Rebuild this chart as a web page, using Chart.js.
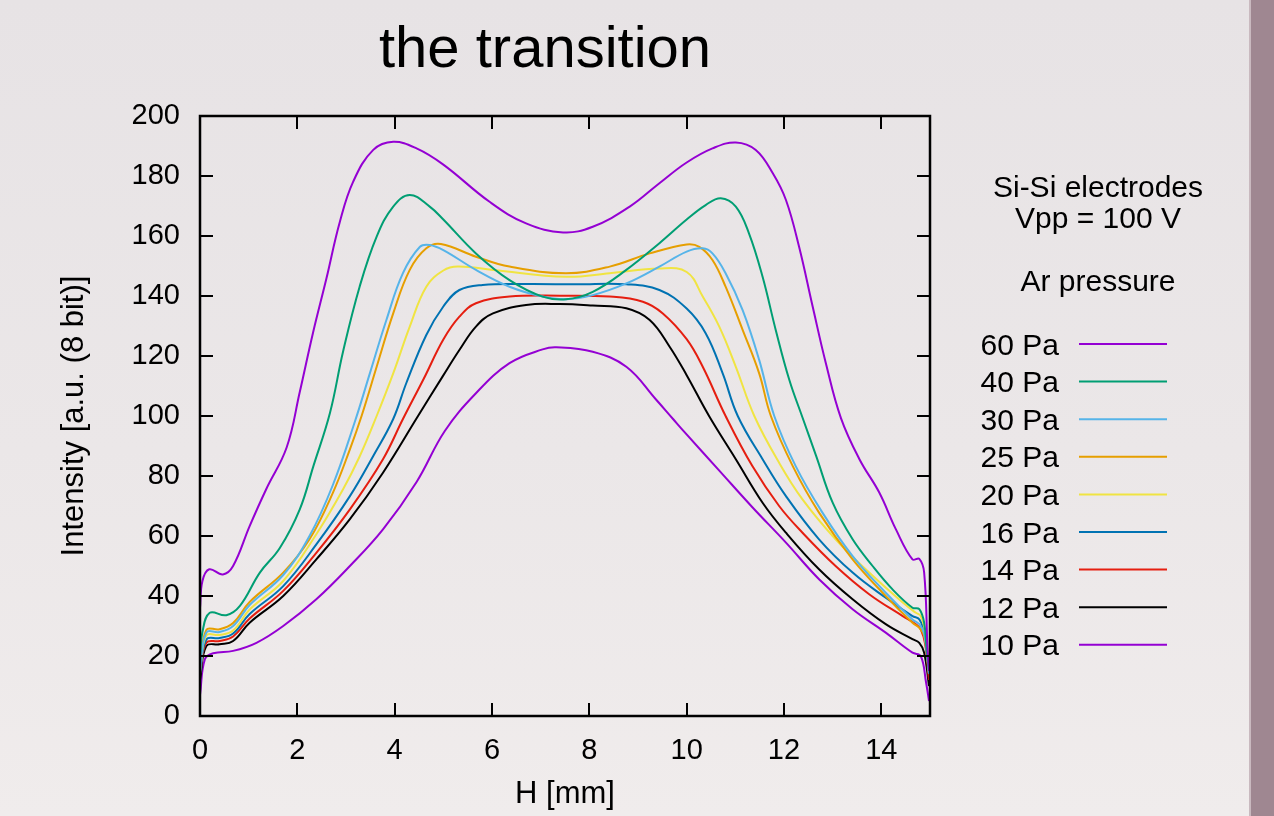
<!DOCTYPE html>
<html><head><meta charset="utf-8">
<script src="https://cdn.jsdelivr.net/npm/chart.js@4/dist/chart.umd.min.js"></script>
<style>
html,body{margin:0;padding:0;width:1274px;height:816px;overflow:hidden;}
body{background:linear-gradient(to bottom,#e7e3e5 0%,#ebe7e8 55%,#f0ecec 100%);position:relative;}
#strip{position:absolute;left:1251px;top:0;width:23px;height:816px;background:#9f8791;}
#strip2{position:absolute;left:1249px;top:0;width:3px;height:816px;background:#c9b9bf;}
#wrap{position:absolute;left:0;top:0;width:1274px;height:816px;}
</style></head><body>
<div id="strip2"></div><div id="strip"></div>
<div id="wrap"><canvas id="c" width="1274" height="816"></canvas></div>
<script>
// ---- data (H in mm, intensity in a.u.) ----
const seriesLabels = ['60 Pa','40 Pa','30 Pa','25 Pa','20 Pa','16 Pa','14 Pa','12 Pa','10 Pa'];
const seriesColors = ['#9400d3','#009e73','#56b4e9','#e69f00','#f0e442','#0072b2','#e51e10','#000000','#9400d3'];

const h60 = [0,0.05,0.19,0.47,0.68,1.02,1.36,1.78,2.05,2.32,2.6,2.87,3.15,3.56,3.97,4.45,5.0,5.95,6.7,7.46,8.07,8.83,9.44,10.0,10.53,11.01,11.42,11.77,12.04,12.31,12.59,12.86,13.17,13.55,13.96,14.3,14.64,14.78,14.88,14.95,14.98];
const i60 = [36,45,48.9,47.2,50,63.3,75.6,89.5,108,127.6,146,164.5,178.2,188.7,191.4,189.2,183.8,171.4,164.2,161.2,163.1,169.8,177.6,184.5,189.2,191.2,188.7,180.9,172,156.4,136.4,117.6,99.3,85.6,74.4,62.2,52.2,52.4,47.8,22.2,15];

const h40 = [0,0.05,0.2,0.54,0.82,1.23,1.64,2.05,2.33,2.67,2.94,3.28,3.63,3.97,4.31,4.72,5.0,5.67,6.36,7.04,7.52,8.07,8.76,9.44,10.0,10.39,10.7,11.01,11.28,11.56,11.83,12.11,12.38,12.66,13.0,13.41,13.82,14.23,14.64,14.78,14.88,14.93,14.98];
const i40 = [20,28,34.4,33.6,36.7,47.8,56,68.9,83.3,101,121.5,143.1,159.8,169.8,173.7,169.8,165.5,154.2,145.3,139.8,138.9,141.4,148.7,157.6,165.5,170.3,172.6,169.8,160.9,146.4,128.7,112,99.5,86.7,71.1,58.9,50,42.2,36.1,35.6,31.1,22.2,15];

const h30 = [0,0.13,0.4,0.68,1.02,1.71,2.25,2.73,3.18,3.49,3.83,4.17,4.52,4.72,5.0,5.67,6.36,7.04,7.52,8.07,8.76,9.44,10.0,10.33,10.53,10.8,11.15,11.49,11.8,12.24,12.79,13.41,14.09,14.64,14.78,14.88,14.98];
const i30 = [15,27.8,28,30,37,47,60,77,98,114.2,132,147.6,156.4,157,155.3,148.7,143.1,139.8,138.9,140.3,144.2,149.8,154.8,155.9,154.2,147.6,135.3,118.7,100,83.3,67.8,53.3,41.1,32.2,30.6,27.5,14];

const h25 = [0,0.13,0.4,0.68,1.02,1.71,2.25,2.73,3.08,3.32,3.63,3.97,4.31,4.65,4.95,5.67,6.36,7.52,8.42,9.24,10.0,10.26,10.53,10.8,11.15,11.49,11.73,12.18,12.72,13.41,14.09,14.64,14.78,14.88,14.98];
const i25 = [16,28.7,28.9,31,38,47.8,58.9,74.4,88.9,100,116.4,134.2,148.7,155.9,157.3,153.1,149.8,147.6,149.8,154.2,157.2,156.4,152,143.1,128.7,114.2,100,83.3,67.8,52.2,40,31.1,29.4,26.7,14];

const h20 = [0,0.13,0.4,0.68,1.02,1.71,2.39,2.94,3.28,3.63,3.97,4.31,4.65,5.0,5.3,6.02,7.52,8.42,9.44,10.0,10.33,10.67,11.01,11.39,11.9,12.38,13.06,13.75,14.44,14.71,14.81,14.9,14.98];
const i20 = [15,26.8,27,28.5,35.5,45,60.6,75.6,86.5,100,114.2,129.8,143.1,148.5,149.8,148.7,146.4,147.6,149.2,148,139.8,129.8,116.4,100,84.4,72.2,58.9,47.8,37.8,34.4,33.3,28,15];

const h16 = [0,0.13,0.4,0.68,1.02,1.71,2.39,3.08,3.56,3.97,4.24,4.65,5.0,5.33,5.81,6.7,7.73,8.76,9.44,10.0,10.39,10.74,11.05,11.56,12.04,12.72,13.41,14.09,14.64,14.78,14.88,14.98];
const i16 = [14,25.5,26,27.5,34,43.3,57.2,73.3,86.7,99,111,127,136.5,142,143.7,144,143.9,143.9,142,135.8,127.6,114.2,100,85.6,73.3,58.9,47.8,39.4,33.3,32.2,27.8,14];

const h14 = [0,0.13,0.4,0.68,1.02,1.71,2.39,3.08,3.76,4.17,4.6,5.0,5.33,5.67,6.36,7.39,8.42,9.1,9.51,10.0,10.33,10.8,11.35,11.9,12.38,13.06,13.75,14.44,14.71,14.81,14.9,14.98];
const i14 = [14,24.4,25,26.5,32.5,41.7,54.4,68.9,85.6,99,112.5,125.5,133.1,137.6,139.8,140.1,139.8,138.1,134.2,125.6,116.4,100,83.3,70,61.1,50,40.6,33.3,30.6,28.9,24,12];

const h12 = [0,0.13,0.4,0.68,1.02,1.71,2.39,3.08,3.76,4.48,4.99,5.33,5.67,6.02,6.7,7.39,8.07,8.76,9.24,9.65,10.0,10.46,11.01,11.56,12.04,12.72,13.41,14.09,14.64,14.78,14.88,14.98];
const i12 = [12,23.3,23.9,25,31.1,40,52.2,65.6,81.1,100,113.3,122,129.8,134.2,137,137.3,136.8,135.9,132,123.1,113.6,100,85.6,71.1,61.1,48.9,38.9,30.6,25.6,24.4,21.1,10];

const h10 = [0,0.1,0.27,0.68,1.16,1.71,2.39,3.08,3.76,4.45,5.03,5.67,6.36,7.04,7.32,8.07,8.76,9.37,9.72,9.98,10.67,11.35,12.04,12.72,13.41,14.09,14.64,14.81,14.92,14.98];
const i10 = [7,18.9,20.9,21.7,24.4,30,38.9,50,62.2,78,95,107.6,117.6,122.2,122.9,121.4,116.4,105.5,99,94.2,81.8,69.6,57.8,45.6,35.6,27.8,21.1,20,11.1,5];

const xTicksStep = 2, yTicksStep = 20;
const xMin = 0, xMax = 15, yMin = 0, yMax = 200;

const H = [h60,h40,h30,h25,h20,h16,h14,h12,h10];
const I = [i60,i40,i30,i25,i20,i16,i14,i12,i10];

const FONT = "'Liberation Sans', Arial, Helvetica, sans-serif";

const datasets = seriesLabels.map((lab, k) => ({
  label: lab,
  data: H[k].map((h, j) => ({x: h, y: I[k][j]})),
  borderColor: seriesColors[k],
  backgroundColor: seriesColors[k],
  borderWidth: 2,
  pointRadius: 0,
  fill: false,
  tension: 0.4
}));

const framePlugin = {
  id: 'frameTicks',
  afterDatasetsDraw(chart) {
    const {ctx, chartArea: a, scales: {x, y}} = chart;
    ctx.save();
    ctx.strokeStyle = '#000';
    ctx.lineWidth = 2;
    ctx.beginPath();
    const L = 13;
    x.ticks.forEach(t => {
      const px = Math.round(x.getPixelForValue(t.value));
      ctx.moveTo(px, a.bottom); ctx.lineTo(px, a.bottom - L);
      ctx.moveTo(px, a.top); ctx.lineTo(px, a.top + L);
    });
    y.ticks.forEach(t => {
      const py = Math.round(y.getPixelForValue(t.value));
      ctx.moveTo(a.left, py); ctx.lineTo(a.left + L, py);
      ctx.moveTo(a.right, py); ctx.lineTo(a.right - L, py);
    });
    ctx.stroke();
    ctx.lineWidth = 2.5;
    ctx.strokeRect(a.left, a.top, a.right - a.left, a.bottom - a.top);
    ctx.restore();
  }
};

const textPlugin = {
  id: 'texts',
  afterDraw(chart) {
    const ctx = chart.ctx;
    ctx.save();
    ctx.fillStyle = '#000';
    ctx.textBaseline = 'alphabetic';
    ctx.font = '58px ' + FONT;
    ctx.textAlign = 'center';
    ctx.fillText('the transition', 545, 67);
    ctx.font = '30px ' + FONT;
    ctx.fillText('Si-Si electrodes', 1098, 197);
    ctx.fillText('Vpp = 100 V', 1098, 228);
    ctx.fillText('Ar pressure', 1098, 291);
    chart.data.datasets.forEach((ds, k) => {
      const ly = 344 + k * 37.6;
      ctx.textAlign = 'right';
      ctx.fillStyle = '#000';
      ctx.fillText(ds.label, 1059, ly + 10.5);
      ctx.strokeStyle = ds.borderColor;
      ctx.lineWidth = 2;
      ctx.beginPath();
      ctx.moveTo(1079, ly); ctx.lineTo(1167, ly);
      ctx.stroke();
    });
    ctx.restore();
  }
};

new Chart(document.getElementById('c'), {
  type: 'line',
  data: {datasets},
  options: {
    responsive: false,
    animation: false,
    layout: {padding: {left: 0, top: 116, right: 344, bottom: 0}},
    plugins: {legend: {display: false}, title: {display: false}, tooltip: {enabled: false}},
    scales: {
      x: {
        type: 'linear', min: xMin, max: xMax,
        grid: {display: false, drawTicks: false},
        border: {display: false},
        ticks: {stepSize: xTicksStep, includeBounds: false, padding: 18, color: '#000',
                font: {family: FONT, size: 29}},
        title: {display: true, text: 'H [mm]', color: '#000', font: {family: FONT, size: 31},
                padding: {top: 0, bottom: 3}},
        afterFit(s) { s.height = 100; }
      },
      y: {
        type: 'linear', min: yMin, max: yMax,
        grid: {display: false, drawTicks: false},
        border: {display: false},
        ticks: {stepSize: yTicksStep, padding: 20, color: '#000',
                font: {family: FONT, size: 29}},
        title: {display: true, text: 'Intensity [a.u. (8 bit)]', color: '#000',
                font: {family: FONT, size: 31}, padding: {top: 56, bottom: 0}},
        afterFit(s) { s.width = 200; }
      }
    }
  },
  plugins: [framePlugin, textPlugin]
});
</script>
</body></html>
